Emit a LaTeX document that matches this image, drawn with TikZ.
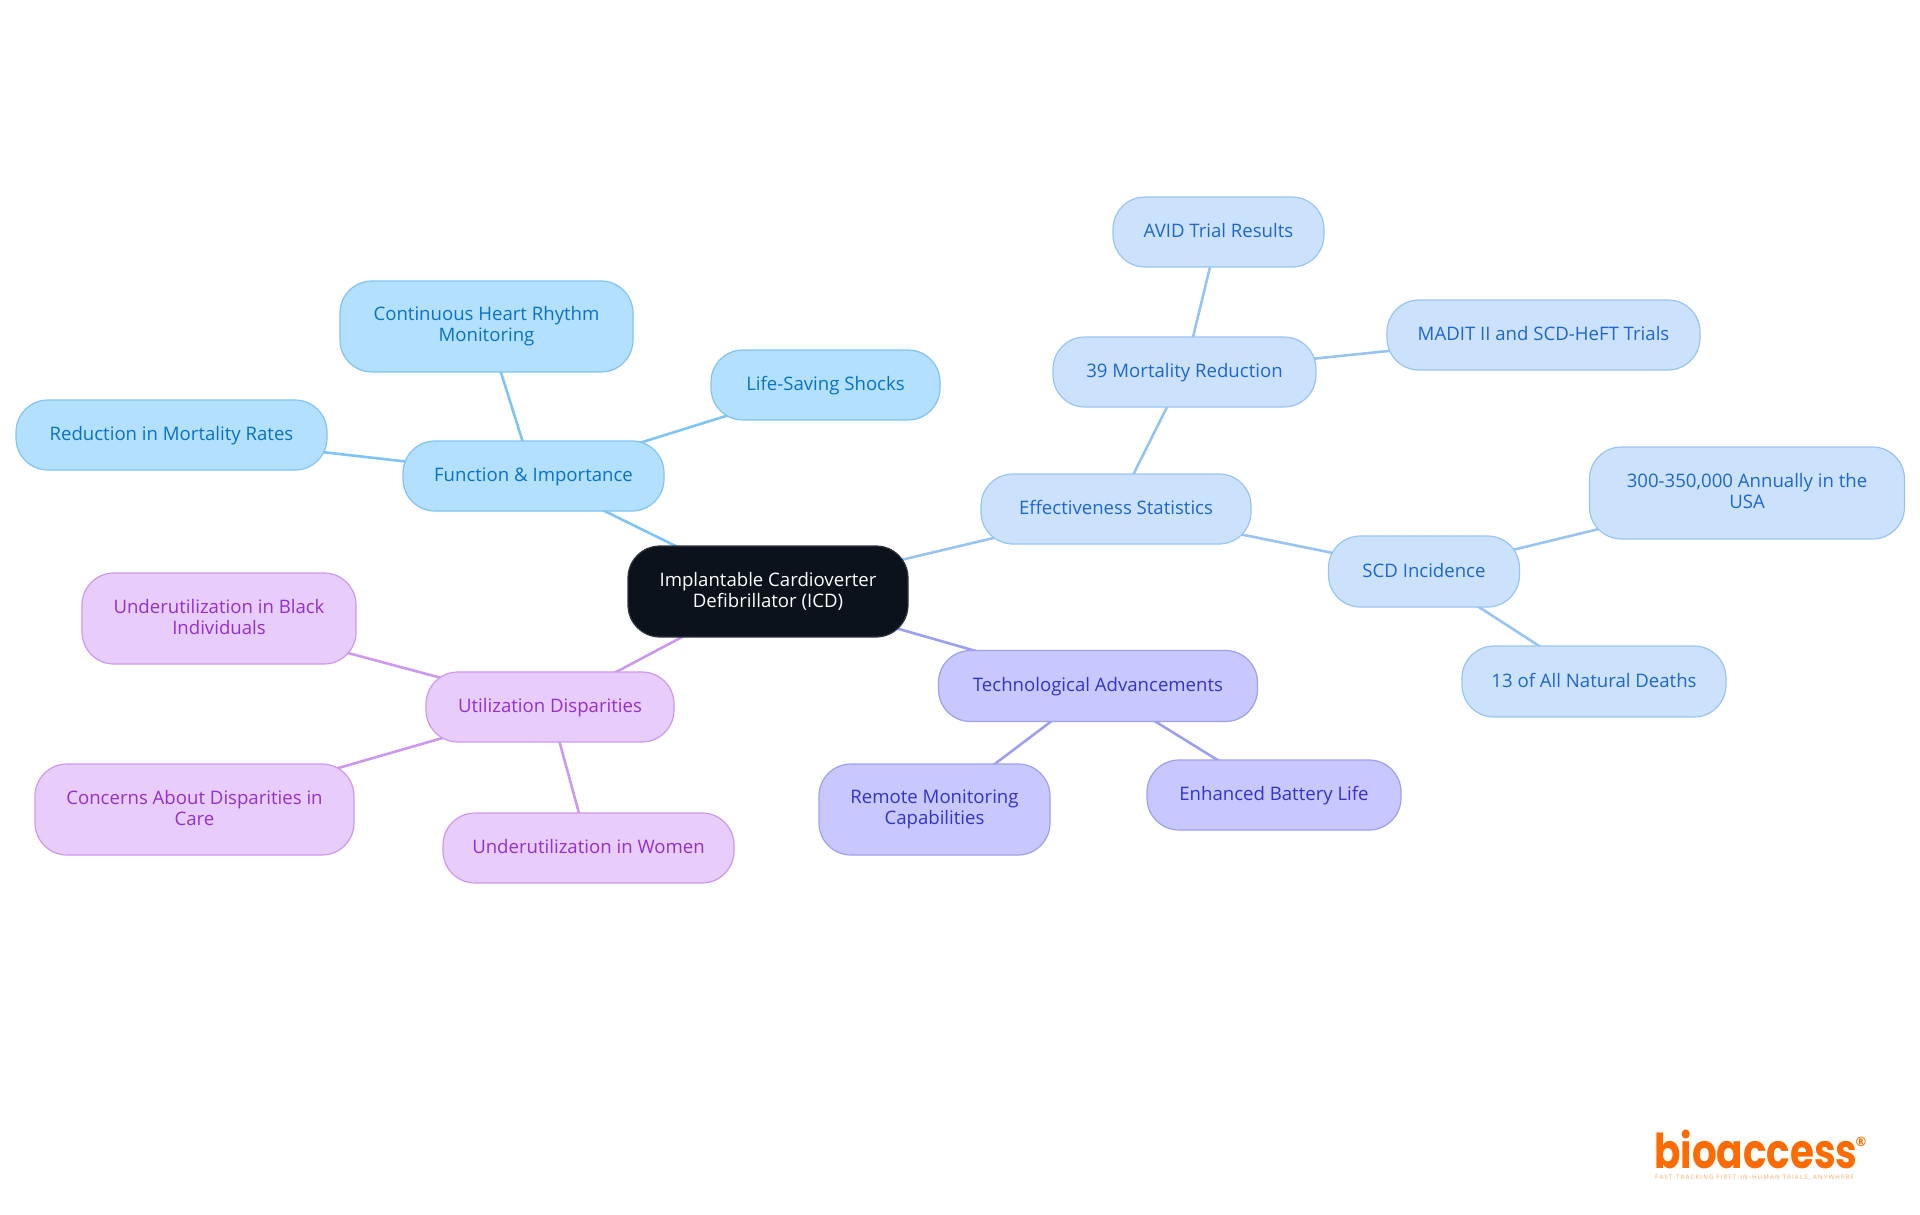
\documentclass[tikz,border=0pt]{standalone}
\usepackage{fontspec}
\setmainfont{Open Sans}
\newfontfamily\logofont{Poppins}[FakeStretch=0.81]
\newfontfamily\tagfont{Open Sans}[LetterSpace=18]
\usetikzlibrary{calc}
\usetikzlibrary{backgrounds}
\definecolor{rootfill}{HTML}{0B121C}
\definecolor{skyfill}{HTML}{B3E0FF}
\definecolor{skyline}{HTML}{7FC4F2}
\definecolor{skytext}{HTML}{0A72C4}
\definecolor{bluefill}{HTML}{CCE2FC}
\definecolor{blueline}{HTML}{99C4F2}
\definecolor{bluetext}{HTML}{1F66CC}
\definecolor{indigofill}{HTML}{C8C8FF}
\definecolor{indigoline}{HTML}{9F9FF0}
\definecolor{indigotext}{HTML}{3333CC}
\definecolor{plumfill}{HTML}{E7CCFC}
\definecolor{plumline}{HTML}{CC99EE}
\definecolor{plumtext}{HTML}{9430CC}
\definecolor{logoorange}{HTML}{FF6B00}
\newcommand{\mapstrut}{\vrule width 0pt height 15pt depth 4pt}
\tikzset{
  mapnode/.style={rounded corners=32pt,inner sep=0pt,align=center,line width=1.2pt,
    font=\fontsize{18.6}{21}\selectfont,
    execute at begin node=\mapstrut,execute at end node=\mapstrut},
  rootnode/.style={mapnode,draw=rootfill!85!white,fill=rootfill,text=white},
  skynode/.style={mapnode,draw=skyline,fill=skyfill,text=skytext},
  bluenode/.style={mapnode,draw=blueline,fill=bluefill,text=bluetext},
  indigonode/.style={mapnode,draw=indigoline,fill=indigofill,text=indigotext},
  plumnode/.style={mapnode,draw=plumline,fill=plumfill,text=plumtext},
  skyedge/.style={draw=skyline,line width=2.6pt},
  blueedge/.style={draw=blueline,line width=2.6pt},
  indigoedge/.style={draw=indigoline,line width=2.6pt},
  plumedge/.style={draw=plumline,line width=2.6pt},
}
\begin{document}
\begin{tikzpicture}[x=1pt,y=-1pt]
\useasboundingbox (0,0) rectangle (1920,1215);

\node[rootnode,minimum width=280pt,minimum height=91pt] (icd) at (768,591.5)
      {Implantable Cardioverter\\Defibrillator (ICD)};

\node[skynode,minimum width=261pt,minimum height=70pt] (func) at (533.5,476) {Function \& Importance};
\node[skynode,minimum width=293pt,minimum height=91pt] (rhythm) at (486.5,326.5) {Continuous Heart Rhythm\\Monitoring};
\node[skynode,minimum width=229pt,minimum height=70pt] (shocks) at (825.5,385) {Life-Saving Shocks};
\node[skynode,minimum width=311pt,minimum height=70pt] (rates) at (171.5,435) {Reduction in Mortality Rates};

\node[bluenode,minimum width=270pt,minimum height=70pt] (stats) at (1116,509) {Effectiveness Statistics};
\node[bluenode,minimum width=263pt,minimum height=70pt] (mortality) at (1184.5,372) {39 Mortality Reduction};
\node[bluenode,minimum width=211pt,minimum height=70pt] (avid) at (1218.5,232) {AVID Trial Results};
\node[bluenode,minimum width=313pt,minimum height=70pt] (madit) at (1543.5,335) {MADIT II and SCD-HeFT Trials};
\node[bluenode,minimum width=191pt,minimum height=71pt] (scd) at (1424,571.5) {SCD Incidence};
\node[bluenode,minimum width=315pt,minimum height=92pt] (annual) at (1747,493) {300-350,000 Annually in the\\USA};
\node[bluenode,minimum width=264pt,minimum height=71pt] (deaths) at (1594,681.5) {13 of All Natural Deaths};

\node[indigonode,minimum width=319pt,minimum height=71pt] (tech) at (1098,686) {Technological Advancements};
\node[indigonode,minimum width=231pt,minimum height=91pt] (remote) at (934.5,809.5) {Remote Monitoring\\Capabilities};
\node[indigonode,minimum width=254pt,minimum height=70pt] (battery) at (1274,795) {Enhanced Battery Life};

\node[plumnode,minimum width=248pt,minimum height=70pt] (util) at (550,707) {Utilization Disparities};
\node[plumnode,minimum width=274pt,minimum height=91pt] (black) at (219,618.5) {Underutilization in Black\\Individuals};
\node[plumnode,minimum width=319pt,minimum height=91pt] (care) at (194.5,809.5) {Concerns About Disparities in\\Care};
\node[plumnode,minimum width=291pt,minimum height=70pt] (women) at (588.5,848) {Underutilization in Women};

\begin{scope}[on background layer]
\draw[skyedge] (icd.center) -- (func.center);
\draw[skyedge] (func.center) -- (rhythm.center);
\draw[skyedge] (func.center) -- (shocks.center);
\draw[skyedge] (func.center) -- (rates.center);

\draw[blueedge] (icd.center) -- (stats.center);
\draw[blueedge] (stats.center) -- (mortality.center);
\draw[blueedge] (mortality.center) -- (avid.center);
\draw[blueedge] (mortality.center) -- (madit.center);
\draw[blueedge] (stats.center) -- (scd.center);
\draw[blueedge] (scd.center) -- (annual.center);
\draw[blueedge] (scd.center) -- (deaths.center);

\draw[indigoedge] (icd.center) -- (tech.center);
\draw[indigoedge] (tech.center) -- (remote.center);
\draw[indigoedge] (tech.center) -- (battery.center);

\draw[plumedge] (icd.center) -- (util.center);
\draw[plumedge] (util.center) -- (black.center);
\draw[plumedge] (util.center) -- (care.center);
\draw[plumedge] (util.center) -- (women.center);
\end{scope}

\node[text=logoorange,inner sep=0pt,anchor=base west,font=\logofont\bfseries\fontsize{48}{48}\selectfont] (brand) at (1654,1168) {bioaccess};
\node[text=logoorange,inner sep=0pt,font=\bfseries\fontsize{13}{13}\selectfont] (mark) at (1861,1142) {®};
\node[text=logoorange!60,inner sep=0pt,anchor=base west,font=\tagfont\fontsize{6.2}{7}\selectfont] (tagline) at (1655,1179.5) {FAST-TRACKING FIRST-IN-HUMAN TRIALS, ANYWHERE};
\end{tikzpicture}
\end{document}
